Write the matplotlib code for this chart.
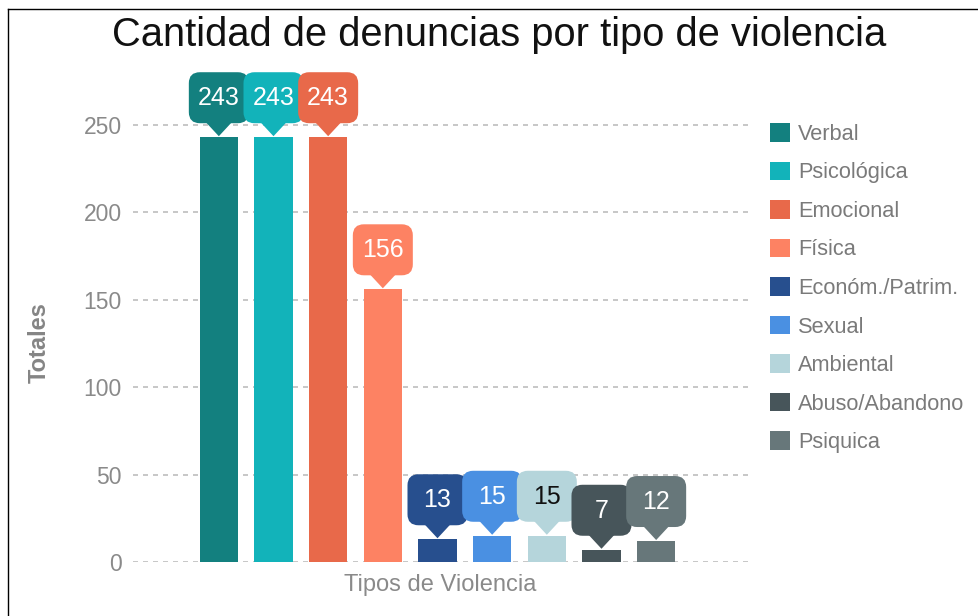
import matplotlib
matplotlib.use("Agg")
import matplotlib.pyplot as plt
import matplotlib.transforms as mtransforms
from matplotlib.patches import FancyBboxPatch, Polygon, Patch
from matplotlib.lines import Line2D

# data
categorias = ["Verbal", "Psicológica", "Emocional", "Física", "Económ./Patrim.",
              "Sexual", "Ambiental", "Abuso/Abandono", "Psiquica"]
totales = [243, 243, 243, 156, 13, 15, 15, 7, 12]
colores = ["#13807f", "#12b3ba", "#e8694a", "#fd8263", "#274f8e",
           "#4a90e2", "#b5d5db", "#47555a", "#67777a"]
color_texto = ["white"] * 6 + ["#111111"] + ["white"] * 2
yticks = [0, 50, 100, 150, 200, 250]

plt.rcParams["font.family"] = ["Liberation Sans", "DejaVu Sans"]

W, H = 979, 616
fig = plt.figure(figsize=(W / 100, H / 100), dpi=100)
ax = fig.add_axes([133 / W, 54 / H, (748 - 133) / W, 0.7662])

x = list(range(len(categorias)))
ax.bar(x, totales, width=0.7, color=colores, zorder=2)
ax.set_xlim(-1.57, 9.68)
ax.set_ylim(0, 270)
ax.set_yticks(yticks)
ax.set_xticks([])
ax.tick_params(axis="y", length=0, pad=8, labelsize=16.5, labelcolor="#8a8a8a")
for s in ax.spines.values():
    s.set_visible(False)
ax.grid(axis="y", color="#bdbdbd", linestyle=(0, (3, 3)), linewidth=1.2, zorder=0)
ax.set_ylabel("Totales", fontsize=17, fontweight="bold", color="#858585")
ax.yaxis.set_label_coords(-0.134, 0.464)
ax.set_xlabel("Tipos de Violencia", fontsize=17, color="#8a8a8a", labelpad=9)

# callout balloons above each bar (pixel geometry)
for xi, v, c, tc in zip(x, totales, colores, color_texto):
    tr = mtransforms.ScaledTranslation(xi, v, ax.transData)
    box = FancyBboxPatch((-30, 14), 60, 51, boxstyle="round,pad=0,rounding_size=11",
                         transform=tr, facecolor=c, edgecolor="none", clip_on=False, zorder=3)
    tri = Polygon([(-13, 15), (13, 15), (0, 1)], closed=True, transform=tr,
                  facecolor=c, edgecolor="none", clip_on=False, zorder=3)
    ax.add_patch(tri)
    ax.add_patch(box)
    ax.text(0, 39, str(v), transform=tr, ha="center", va="center",
            fontsize=18, color=tc, zorder=4, clip_on=False)

handles = [Patch(facecolor=c, edgecolor="none") for c in colores]
leg = fig.legend(handles, categorias, loc="upper left",
                 bbox_to_anchor=(770 / W, 1 - 123 / H), bbox_transform=fig.transFigure,
                 frameon=False, fontsize=15.7, labelcolor="#7a7a7a",
                 handlelength=0.93, handleheight=0.93, handletextpad=0.37,
                 labelspacing=0.77, borderpad=0, borderaxespad=0)

fig.text(499 / W, 1 - 46 / H, "Cantidad de denuncias por tipo de violencia",
         ha="center", va="baseline", fontsize=28.7, color="#111111")

# outer frame (left and top edges only)
fig.add_artist(Line2D([8.5 / W, 8.5 / W], [0, 1 - 9 / H], color="black", lw=1,
                      transform=fig.transFigure))
fig.add_artist(Line2D([8.5 / W, 1], [1 - 9 / H, 1 - 9 / H], color="black", lw=1,
                      transform=fig.transFigure))

fig.savefig("out.png", dpi=100)
